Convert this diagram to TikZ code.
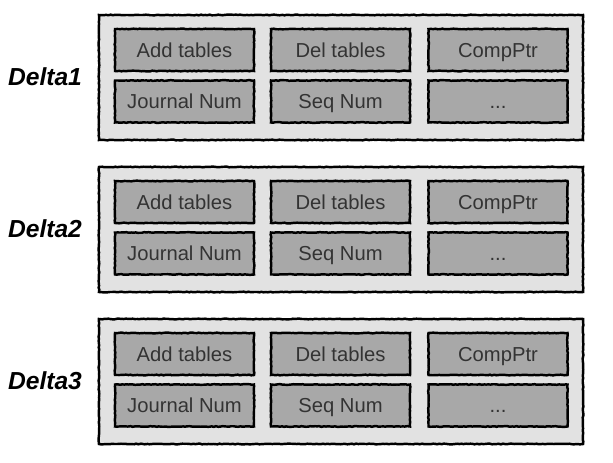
\documentclass[tikz,border=0pt]{standalone}
\usepackage{fontspec}
\setmainfont{Liberation Sans}
\usetikzlibrary{positioning,decorations.pathmorphing}
\definecolor{panelgrey}{RGB}{226,226,226}
\definecolor{cellgrey}{RGB}{168,168,168}

\tikzset{
  rough/.style={decorate,decoration={random steps,segment length=2.5pt,amplitude=0.4pt}},
  panel/.style={draw,rough,line width=2.8pt,fill=panelgrey,minimum width=19.36cm,minimum height=5.0cm},
  cell/.style={draw,rough,line width=2.8pt,fill=cellgrey,minimum width=5.56cm,minimum height=1.68cm,
    font=\fontsize{23}{27}\selectfont,text=black!80,text height=16.5pt,text depth=0pt},
  deltalbl/.style={font=\fontsize{28}{32}\selectfont\bfseries\itshape}
}

\begin{document}
\begin{tikzpicture}[x=0.04cm,y=-0.04cm]
\useasboundingbox (0,0) rectangle (613,463);
\def\cA{184.5}
\def\cB{340.5}
\def\cC{498}

% Delta1
\node[panel] (d1) at (341,77.5) {};
\node[deltalbl] (d1lbl) at (45,77) {Delta1};
\node[cell] (d1add) at (\cA,50) {Add tables};
\node[cell] (d1del) at (\cB,50) {Del tables};
\node[cell] (d1cmp) at (\cC,50) {CompPtr};
\node[cell] (d1jrn) at (\cA,101.5) {Journal Num};
\node[cell] (d1seq) at (\cB,101.5) {Seq Num};
\node[cell] (d1etc) at (\cC,101.5) {...};

% Delta2
\node[panel] (d2) at (341,229.5) {};
\node[deltalbl] (d2lbl) at (45,229) {Delta2};
\node[cell] (d2add) at (\cA,202) {Add tables};
\node[cell] (d2del) at (\cB,202) {Del tables};
\node[cell] (d2cmp) at (\cC,202) {CompPtr};
\node[cell] (d2jrn) at (\cA,253.5) {Journal Num};
\node[cell] (d2seq) at (\cB,253.5) {Seq Num};
\node[cell] (d2etc) at (\cC,253.5) {...};

% Delta3
\node[panel] (d3) at (341,381.5) {};
\node[deltalbl] (d3lbl) at (45,381) {Delta3};
\node[cell] (d3add) at (\cA,354) {Add tables};
\node[cell] (d3del) at (\cB,354) {Del tables};
\node[cell] (d3cmp) at (\cC,354) {CompPtr};
\node[cell] (d3jrn) at (\cA,405.5) {Journal Num};
\node[cell] (d3seq) at (\cB,405.5) {Seq Num};
\node[cell] (d3etc) at (\cC,405.5) {...};

\end{tikzpicture}
\end{document}
